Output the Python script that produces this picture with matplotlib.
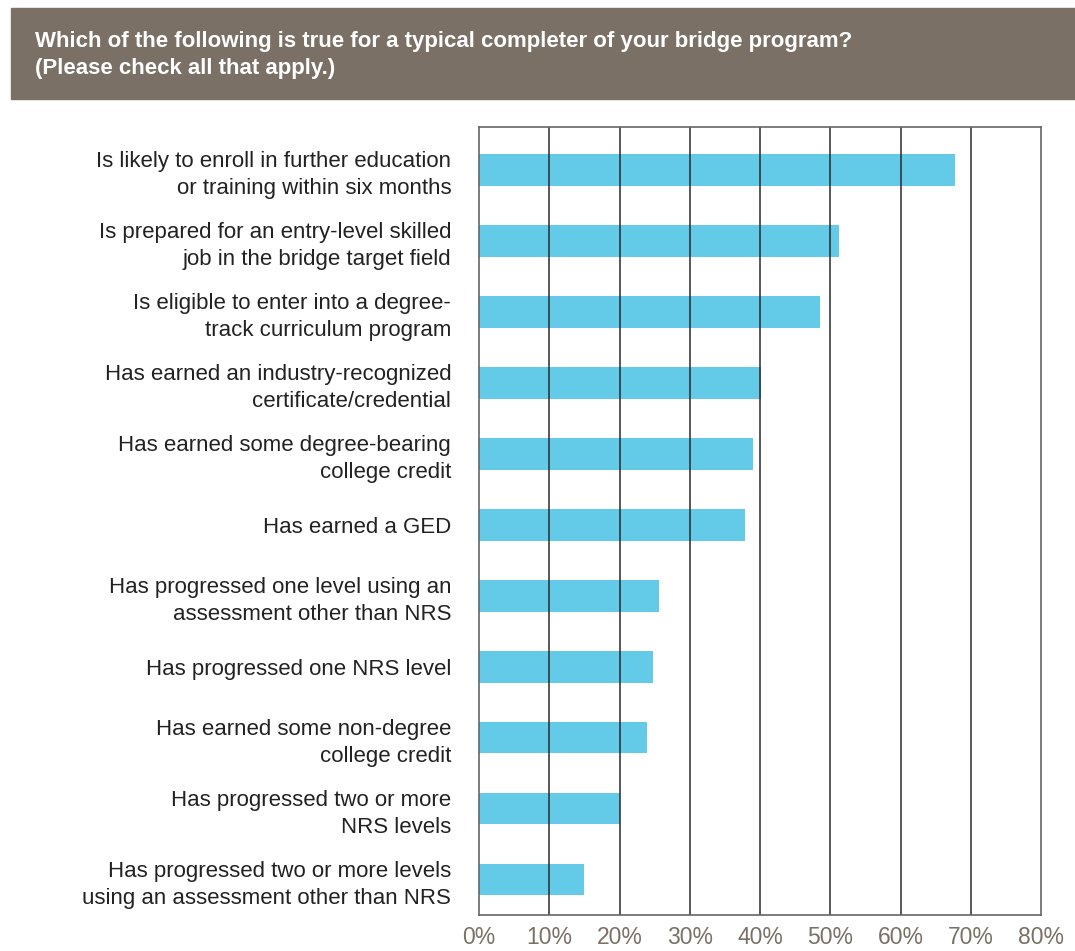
import numpy as np
import matplotlib.pyplot as plt
from matplotlib.patches import Rectangle

plt.rcParams['font.family'] = ['Liberation Sans', 'DejaVu Sans']

title = ("Which of the following is true for a typical completer of your bridge program?\n"
         "(Please check all that apply.)")

labels = [
    "Is likely to enroll in further education\nor training within six months",
    "Is prepared for an entry-level skilled\njob in the bridge target field",
    "Is eligible to enter into a degree-\ntrack curriculum program",
    "Has earned an industry-recognized\ncertificate/credential",
    "Has earned some degree-bearing\ncollege credit",
    "Has earned a GED",
    "Has progressed one level using an\nassessment other than NRS",
    "Has progressed one NRS level",
    "Has earned some non-degree\ncollege credit",
    "Has progressed two or more\nNRS levels",
    "Has progressed two or more levels\nusing an assessment other than NRS",
]
values = [67.7, 51.2, 48.6, 40.1, 39.0, 37.9, 25.6, 24.7, 23.9, 20.0, 14.9]
ticks = [0, 10, 20, 30, 40, 50, 60, 70, 80]
tick_labels = ['0%', '10%', '20%', '30%', '40%', '50%', '60%', '70%', '80%']

bar_color = '#63cbe8'
brown = '#7a7066'

fig = plt.figure(figsize=(10.75, 9.51), dpi=100)

# header band
fig.patches.append(Rectangle((11/1075, 1-99/951), 1-11/1075, 91/951,
                             transform=fig.transFigure, color=brown, zorder=0))
fig.text(35/1075, 1-55/951, title, color='white', fontsize=16, fontweight='bold',
         va='center', ha='left', linespacing=1.35)

ax = fig.add_axes([479/1075, 1-915/951, (1041-479)/1075, (915-127)/951])
y = np.arange(len(values))
ax.barh(y, values, height=0.45, color=bar_color, zorder=1)
ax.set_ylim(len(values) - 0.5, -0.6)
ax.set_xlim(0, 80)

for t in ticks[1:-1]:
    ax.axvline(t, color='#2a2a2a', lw=1.1, zorder=2)

ax.set_xticks(ticks)
ax.set_xticklabels(tick_labels, color=brown, fontsize=16.5)
ax.tick_params(axis='x', length=0, pad=8)
ax.set_yticks(y)
ax.set_yticklabels(labels, fontsize=16, color='#222222', linespacing=1.38)
ax.tick_params(axis='y', length=0, pad=20)
for s in ax.spines.values():
    s.set_color('#666666')
    s.set_linewidth(1.2)

fig.savefig('out.png', dpi=100)
